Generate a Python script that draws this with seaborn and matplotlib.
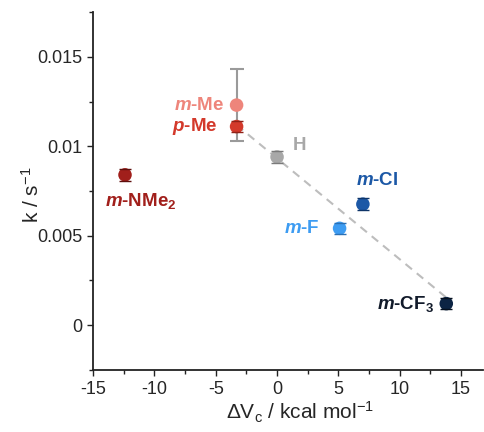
import numpy as np
import pandas as pd
import matplotlib
matplotlib.use("Agg")
import matplotlib.pyplot as plt
from matplotlib.ticker import MultipleLocator, FuncFormatter
import seaborn as sns

# ---- data ----
labels = ["m-Me", "p-Me", "H", "m-NMe2", "m-Cl", "m-F", "m-CF3"]
dv = [-3.3, -3.3, 0.0, -12.4, 7.0, 5.1, 13.8]
k = [0.0123, 0.0111, 0.0094, 0.0084, 0.00676, 0.00541, 0.0012]
k_err = [0.0020, 0.00032, 0.00032, 0.00032, 0.00032, 0.00032, 0.00032]
fit_members = ["p-Me", "H", "m-F", "m-Cl", "m-CF3"]
display = [r"$m$-Me", r"$p$-Me", "H", r"$m$-NMe$_\mathregular{2}$",
           r"$m$-Cl", r"$m$-F", r"$m$-CF$_\mathregular{3}$"]

colors = {"m-Me": "#EE857B", "p-Me": "#D3392B", "H": "#A8A8A8",
          "m-NMe2": "#A11F1B", "m-Cl": "#1C58A6", "m-F": "#3D9CF2",
          "m-CF3": "#0C2444"}
cap_colors = {"m-Me": "#9A9A9A", "p-Me": "#8E2218", "H": "#7A7A7A",
              "m-NMe2": "#5E0F0D", "m-Cl": "#0E3468", "m-F": "#2A70B5",
              "m-CF3": "#05101F"}
label_colors = dict(colors)
label_colors["m-CF3"] = "#111A2A"

df = pd.DataFrame({"label": labels, "dv": dv, "k": k, "err": k_err})

sns.set_style("ticks")
plt.rcParams["font.family"] = ["Liberation Sans", "DejaVu Sans"]
plt.rcParams["mathtext.fontset"] = "custom"
plt.rcParams["mathtext.it"] = "Liberation Sans:bold:italic"
plt.rcParams["mathtext.rm"] = "Liberation Sans"
plt.rcParams["axes.unicode_minus"] = False

fig = plt.figure(figsize=(4.85, 4.32), dpi=100)
ax = fig.add_axes([0.192, 0.144, 0.804, 0.828])

# linear fit line
sub = df[df.label.isin(fit_members)]
slope, icpt = np.polyfit(sub.dv, sub.k, 1)
xs = np.array([sub.dv.min(), sub.dv.max()])
ax.plot(xs, slope * xs + icpt, ls=(0, (4, 3)), color="#BDBDBD", lw=1.5, zorder=1)

sns.scatterplot(data=df, x="dv", y="k", hue="label", palette=colors,
                s=95, edgecolor="none", legend=False, ax=ax, zorder=3)

# error bars
for _, r in df.iterrows():
    if r.label == "m-Me":
        ax.errorbar(r.dv, r.k, yerr=r.err, fmt="none", ecolor=cap_colors[r.label],
                    elinewidth=1.5, capsize=5, capthick=1.5, zorder=2)
    else:
        ax.errorbar(r.dv, r.k, yerr=r.err, fmt="none", ecolor=cap_colors[r.label],
                    elinewidth=0, capsize=4, capthick=1.0, zorder=4)

# labels
offsets = {"m-Me": (-9, 0, "right", "center"),
           "p-Me": (-14, 0, "right", "center"),
           "H": (11, 8, "left", "center"),
           "m-NMe2": (11, -19, "center", "center"),
           "m-Cl": (10, 17, "center", "center"),
           "m-F": (-14, 0, "right", "center"),
           "m-CF3": (-9, 0, "right", "center")}
for lab, disp, x, y in zip(labels, display, dv, k):
    dx, dy, ha, va = offsets[lab]
    ax.annotate(disp, (x, y), xytext=(dx, dy), textcoords="offset points",
                ha=ha, va=va, fontsize=13.5, fontweight="bold",
                color=label_colors[lab])

ax.set_xlim(-15, 16.8)
ax.set_ylim(-0.0025, 0.0175)
ax.xaxis.set_major_locator(MultipleLocator(5))
ax.xaxis.set_minor_locator(MultipleLocator(2.5))
ax.yaxis.set_major_locator(MultipleLocator(0.005))
ax.yaxis.set_minor_locator(MultipleLocator(0.0025))
ax.yaxis.set_major_formatter(FuncFormatter(lambda v, p: "%g" % round(v, 6)))
ax.xaxis.set_major_formatter(FuncFormatter(lambda v, p: "%g" % v))
ax.tick_params(which="major", length=4.5, width=1, labelsize=13, color="#222222")
ax.tick_params(which="minor", length=3, width=1, color="#222222")
sns.despine(ax=ax)
for s in ["left", "bottom"]:
    ax.spines[s].set_linewidth(1.3)
    ax.spines[s].set_color("#222222")

ax.set_xlabel(r"ΔV$_\mathregular{c}$ / kcal mol$^\mathregular{-1}$", fontsize=15)
ax.set_ylabel(r"k / s$^\mathregular{-1}$", fontsize=15)
ax.xaxis.set_label_coords(0.53, -0.083)
ax.yaxis.set_label_coords(-0.128, 0.49)

fig.savefig("out.png", dpi=100)
